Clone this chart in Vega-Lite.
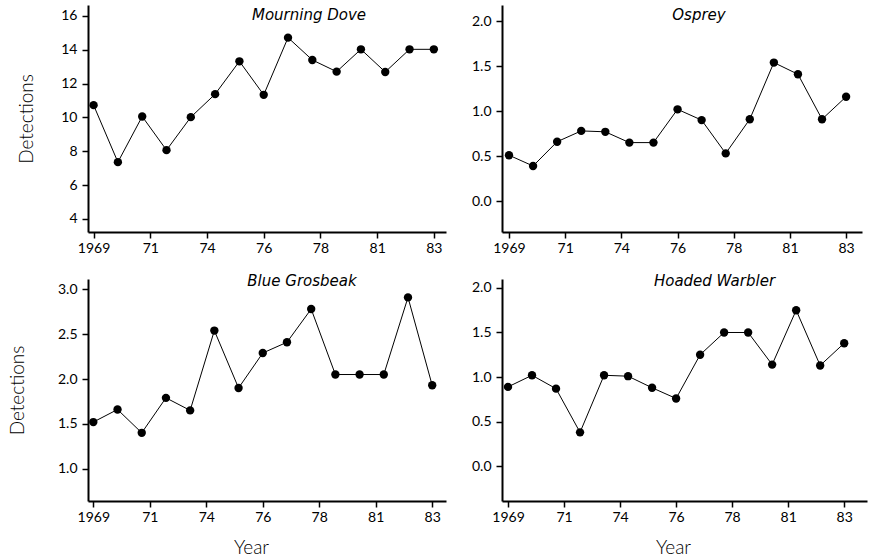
{
  "$schema": "https://vega.github.io/schema/vega-lite/v6.json",
  "padding": {"top": 5, "left": 8, "right": 4, "bottom": 4},
  "background": "white",
  "data": {"values": [
    {"species": "Mourning Dove", "year": 1969, "detections": 10.73},
    {"species": "Mourning Dove", "year": 1970, "detections": 7.36},
    {"species": "Mourning Dove", "year": 1971, "detections": 10.06},
    {"species": "Mourning Dove", "year": 1972, "detections": 8.07},
    {"species": "Mourning Dove", "year": 1973, "detections": 10.02},
    {"species": "Mourning Dove", "year": 1974, "detections": 11.38},
    {"species": "Mourning Dove", "year": 1975, "detections": 13.32},
    {"species": "Mourning Dove", "year": 1976, "detections": 11.34},
    {"species": "Mourning Dove", "year": 1977, "detections": 14.72},
    {"species": "Mourning Dove", "year": 1978, "detections": 13.4},
    {"species": "Mourning Dove", "year": 1979, "detections": 12.71},
    {"species": "Mourning Dove", "year": 1980, "detections": 14.03},
    {"species": "Mourning Dove", "year": 1981, "detections": 12.69},
    {"species": "Mourning Dove", "year": 1982, "detections": 14.03},
    {"species": "Mourning Dove", "year": 1983, "detections": 14.03},
    {"species": "Osprey", "year": 1969, "detections": 0.51},
    {"species": "Osprey", "year": 1970, "detections": 0.39},
    {"species": "Osprey", "year": 1971, "detections": 0.66},
    {"species": "Osprey", "year": 1972, "detections": 0.78},
    {"species": "Osprey", "year": 1973, "detections": 0.77},
    {"species": "Osprey", "year": 1974, "detections": 0.65},
    {"species": "Osprey", "year": 1975, "detections": 0.65},
    {"species": "Osprey", "year": 1976, "detections": 1.02},
    {"species": "Osprey", "year": 1977, "detections": 0.9},
    {"species": "Osprey", "year": 1978, "detections": 0.53},
    {"species": "Osprey", "year": 1979, "detections": 0.91},
    {"species": "Osprey", "year": 1980, "detections": 1.54},
    {"species": "Osprey", "year": 1981, "detections": 1.41},
    {"species": "Osprey", "year": 1982, "detections": 0.91},
    {"species": "Osprey", "year": 1983, "detections": 1.16},
    {"species": "Blue Grosbeak", "year": 1969, "detections": 1.52},
    {"species": "Blue Grosbeak", "year": 1970, "detections": 1.66},
    {"species": "Blue Grosbeak", "year": 1971, "detections": 1.4},
    {"species": "Blue Grosbeak", "year": 1972, "detections": 1.79},
    {"species": "Blue Grosbeak", "year": 1973, "detections": 1.65},
    {"species": "Blue Grosbeak", "year": 1974, "detections": 2.54},
    {"species": "Blue Grosbeak", "year": 1975, "detections": 1.9},
    {"species": "Blue Grosbeak", "year": 1976, "detections": 2.29},
    {"species": "Blue Grosbeak", "year": 1977, "detections": 2.41},
    {"species": "Blue Grosbeak", "year": 1978, "detections": 2.78},
    {"species": "Blue Grosbeak", "year": 1979, "detections": 2.05},
    {"species": "Blue Grosbeak", "year": 1980, "detections": 2.05},
    {"species": "Blue Grosbeak", "year": 1981, "detections": 2.05},
    {"species": "Blue Grosbeak", "year": 1982, "detections": 2.91},
    {"species": "Blue Grosbeak", "year": 1983, "detections": 1.93},
    {"species": "Hooded Warbler", "year": 1969, "detections": 0.89},
    {"species": "Hooded Warbler", "year": 1970, "detections": 1.02},
    {"species": "Hooded Warbler", "year": 1971, "detections": 0.87},
    {"species": "Hooded Warbler", "year": 1972, "detections": 0.38},
    {"species": "Hooded Warbler", "year": 1973, "detections": 1.02},
    {"species": "Hooded Warbler", "year": 1974, "detections": 1.01},
    {"species": "Hooded Warbler", "year": 1975, "detections": 0.88},
    {"species": "Hooded Warbler", "year": 1976, "detections": 0.76},
    {"species": "Hooded Warbler", "year": 1977, "detections": 1.25},
    {"species": "Hooded Warbler", "year": 1978, "detections": 1.5},
    {"species": "Hooded Warbler", "year": 1979, "detections": 1.5},
    {"species": "Hooded Warbler", "year": 1980, "detections": 1.14},
    {"species": "Hooded Warbler", "year": 1981, "detections": 1.75},
    {"species": "Hooded Warbler", "year": 1982, "detections": 1.13},
    {"species": "Hooded Warbler", "year": 1983, "detections": 1.38}
  ]},
  "spacing": 19,
  "vconcat": [
    {
      "spacing": 25,
      "hconcat": [
        {
          "width": 358, "height": 227,
          "title": {"text": "Mourning  Dove", "dx": 42, "offset": -18},
          "transform": [{"filter": "datum.species === 'Mourning Dove'"}],
          "encoding": {
            "x": {"field": "year", "type": "quantitative",
              "scale": {"domain": [1968.77, 1983.5], "nice": false, "zero": false},
              "axis": {"title": null, "values": [1969, 1971.333, 1973.667, 1976, 1978.333, 1980.667, 1983],
                "labelExpr": "datum.value < 1970 ? '1969' : format(round(datum.value) - 1900, 'd')"}},
            "y": {"field": "detections", "type": "quantitative",
              "scale": {"domain": [3.23, 16.65], "nice": false, "zero": false},
              "axis": {"title": "Detections", "titlePadding": 24, "values": [4, 6, 8, 10, 12, 14, 16], "format": "d"}}
          },
          "layer": [
            {"mark": {"type": "line", "color": "black", "strokeWidth": 1}},
            {"mark": {"type": "point", "filled": true, "color": "black", "size": 70, "opacity": 1}}
          ]
        },
        {
          "width": 360, "height": 227,
          "title": {"text": "Osprey", "dx": 17, "offset": -18},
          "transform": [{"filter": "datum.species === 'Osprey'"}],
          "encoding": {
            "x": {"field": "year", "type": "quantitative",
              "scale": {"domain": [1968.71, 1983.66], "nice": false, "zero": false},
              "axis": {"title": null, "values": [1969, 1971.333, 1973.667, 1976, 1978.333, 1980.667, 1983],
                "labelExpr": "datum.value < 1970 ? '1969' : format(round(datum.value) - 1900, 'd')"}},
            "y": {"field": "detections", "type": "quantitative",
              "scale": {"domain": [-0.344, 2.18], "nice": false, "zero": false},
              "axis": {"title": null, "values": [0, 0.5, 1, 1.5, 2], "format": ".1f"}}
          },
          "layer": [
            {"mark": {"type": "line", "color": "black", "strokeWidth": 1}},
            {"mark": {"type": "point", "filled": true, "color": "black", "size": 70, "opacity": 1}}
          ]
        }
      ]
    },
    {
      "spacing": 25,
      "hconcat": [
        {
          "width": 358, "height": 222,
          "title": {"text": "Blue  Grosbeak", "dx": 35, "offset": -10},
          "transform": [{"filter": "datum.species === 'Blue Grosbeak'"}],
          "encoding": {
            "x": {"field": "year", "type": "quantitative",
              "scale": {"domain": [1968.78, 1983.57], "nice": false, "zero": false},
              "axis": {"title": "Year", "titleX": 163, "values": [1969, 1971.333, 1973.667, 1976, 1978.333, 1980.667, 1983],
                "labelExpr": "datum.value < 1970 ? '1969' : format(round(datum.value) - 1900, 'd')"}},
            "y": {"field": "detections", "type": "quantitative",
              "scale": {"domain": [0.64, 3.115], "nice": false, "zero": false},
              "axis": {"title": "Detections", "titlePadding": 30, "values": [1, 1.5, 2, 2.5, 3], "format": ".1f"}}
          },
          "layer": [
            {"mark": {"type": "line", "color": "black", "strokeWidth": 1}},
            {"mark": {"type": "point", "filled": true, "color": "black", "size": 70, "opacity": 1}}
          ]
        },
        {
          "width": 365, "height": 222,
          "title": {"text": "Hoaded  Warbler", "dx": 30, "offset": -10},
          "transform": [{"filter": "datum.species === 'Hooded Warbler'"}],
          "encoding": {
            "x": {"field": "year", "type": "quantitative",
              "scale": {"domain": [1968.75, 1983.95], "nice": false, "zero": false},
              "axis": {"title": "Year", "titleX": 171, "values": [1969, 1971.333, 1973.667, 1976, 1978.333, 1980.667, 1983],
                "labelExpr": "datum.value < 1970 ? '1969' : format(round(datum.value) - 1900, 'd')"}},
            "y": {"field": "detections", "type": "quantitative",
              "scale": {"domain": [-0.39, 2.1], "nice": false, "zero": false},
              "axis": {"title": null, "values": [0, 0.5, 1, 1.5, 2], "format": ".1f"}}
          },
          "layer": [
            {"mark": {"type": "line", "color": "black", "strokeWidth": 1}},
            {"mark": {"type": "point", "filled": true, "color": "black", "size": 70, "opacity": 1}}
          ]
        }
      ]
    }
  ],
  "config": {
    "font": "Lato",
    "view": {"stroke": null},
    "title": {"font": "DejaVu Sans", "fontSize": 15, "fontStyle": "italic", "fontWeight": "normal", "color": "black", "anchor": "middle", "frame": "group", "baseline": "middle"},
    "axis": {
      "grid": false,
      "domainColor": "black", "domainWidth": 2,
      "tickColor": "black", "tickSize": 6, "tickWidth": 1.5,
      "labelFont": "Lato", "labelFontSize": 14, "labelColor": "black", "labelPadding": 3,
      "labelFlush": false, "labelOverlap": false,
      "titleFont": "Lato", "titleFontSize": 19, "titleFontWeight": 300, "titleColor": "black"
    },
    "axisY": {"labelPadding": 5},
    "axisX": {"titlePadding": 14}
  }
}
